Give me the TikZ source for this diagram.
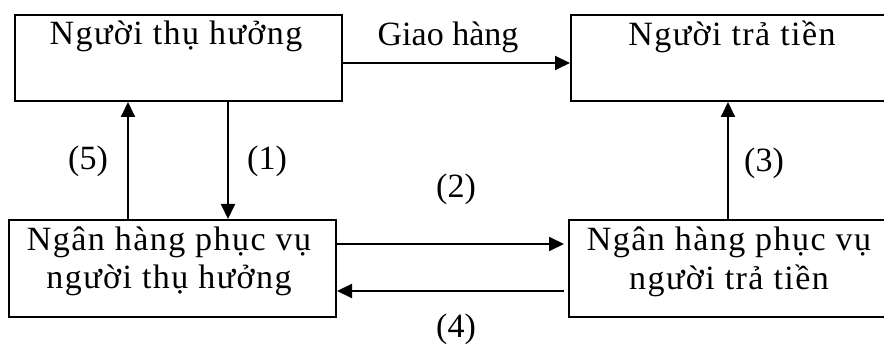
\documentclass[tikz,border=0pt]{standalone}
\usepackage{fontspec}
\setmainfont{Liberation Serif}
\newfontfamily\boxfont[LetterSpace=4.3]{Liberation Serif}
\usetikzlibrary{arrows.meta}
\begin{document}
\begin{tikzpicture}[x=1pt,y=-1pt,
  box/.style={draw,line width=2pt,anchor=north west,inner sep=0pt},
  txt/.style={anchor=base,inner sep=0pt,font=\fontsize{34}{38}\selectfont},
  btxt/.style={anchor=base,inner sep=0pt,font=\boxfont\fontsize{34}{38}\selectfont},
  arr/.style={line width=2pt,-{Triangle[length=15pt,width=14pt]}}]
\clip (0,0) rectangle (884,347);
\fill[white] (0,0) rectangle (884,347);
% boxes
\node[box,minimum width=327pt,minimum height=86pt] (b1) at (14,14) {};
\node[box,minimum width=330pt,minimum height=86pt] (b2) at (570,14) {};
\node[box,minimum width=327pt,minimum height=97pt] (b3) at (8,219) {};
\node[box,minimum width=330pt,minimum height=97pt] (b4) at (568,219) {};
% texts
\node[btxt] (t1) at (176,45) {Người thụ hưởng};
\node[btxt] (t2) at (732,46) {Người trả tiền};
\node[btxt] (t3a) at (169,251) {Ngân hàng phục vụ};
\node[btxt] (t3b) at (169,289) {người thụ hưởng};
\node[btxt] (t4a) at (729,251) {Ngân hàng phục vụ};
\node[btxt] (t4b) at (729,290) {người trả tiền};
% labels
\node[txt] (lg) at (448,46) {Giao hàng};
\node[txt] (l1) at (267,170) {(1)};
\node[txt] (l5) at (88,170) {(5)};
\node[txt] (l3) at (764,172) {(3)};
\node[txt] (l2) at (456,198) {(2)};
\node[txt] (l4) at (456,338) {(4)};
% helper coordinates
\coordinate (yg) at (0,63);
\coordinate (x1) at (228,0);
\coordinate (x5) at (128,0);
\coordinate (x3) at (728,0);
\coordinate (y2) at (0,244);
\coordinate (y4) at (0,291);
\coordinate (e2) at (564,244);
\coordinate (s4) at (564,291);
% connectors
\draw[arr] (b1.east |- yg) -- (b2.west |- yg);
\draw[arr] (b1.south -| x1) -- (b3.north -| x1);
\draw[arr] (b3.north -| x5) -- (b1.south -| x5);
\draw[arr] (b4.north -| x3) -- (b2.south -| x3);
\draw[arr] (b3.east |- y2) -- (e2);
\draw[arr] (s4) -- (b3.east |- y4);
\end{tikzpicture}
\end{document}
